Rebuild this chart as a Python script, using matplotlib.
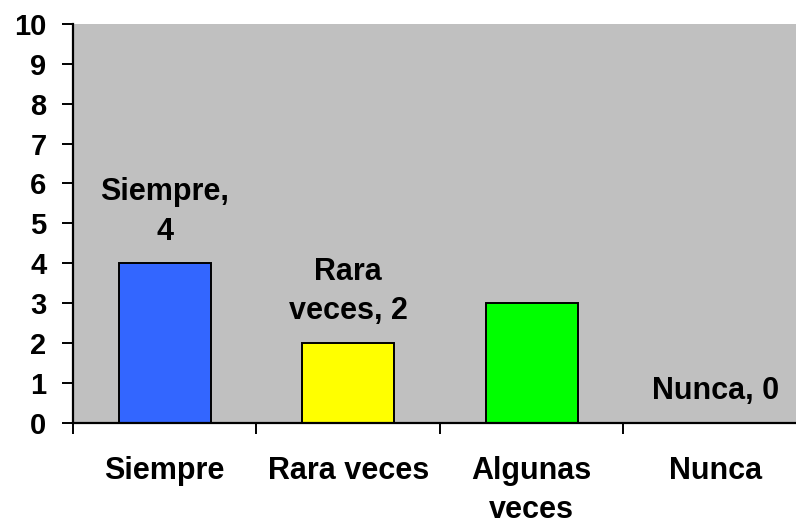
import numpy as np
import matplotlib
matplotlib.use('Agg')
import matplotlib.pyplot as plt

categories = ['Siempre', 'Rara veces', 'Algunas\nveces', 'Nunca']
values = [4, 2, 3, 0]
bar_colors = ['#3366FF', '#FFFF00', '#00FF00', '#808080']
point_labels = ['Siempre,\n4', 'Rara\nveces, 2', None, 'Nunca, 0']
y_ticks = list(range(0, 11))

plt.rcParams['font.family'] = ['Liberation Sans', 'DejaVu Sans']
plt.rcParams['font.weight'] = 'bold'

fig = plt.figure(figsize=(7.96, 5.27), dpi=100)
ax = fig.add_axes([0.0917, 0.198, 0.922, 0.7565])
ax.set_facecolor('#C0C0C0')

x = np.arange(len(categories))
ax.bar(x, values, width=0.5, color=bar_colors, edgecolor='black', linewidth=1.4, zorder=2)

# data labels above bars (none on "Algunas veces" in the original)
for xi, v, lab in zip(x, values, point_labels):
    if lab is None:
        continue
    ax.annotate(lab, (xi, v), xytext=(0, 12), textcoords='offset points',
                ha='center', va='bottom', fontsize=22, fontweight='bold',
                linespacing=1.4, zorder=3)

ax.set_xlim(-0.5, 3.5)
ax.set_ylim(0, 10)
ax.set_yticks(y_ticks)
ax.tick_params(axis='y', direction='out', length=8, width=1.4, pad=11, labelsize=21)

ax.set_xticks(x)
ax.set_xticklabels(categories, fontsize=22, fontweight='bold', linespacing=1.38)
ax.set_xticks(np.arange(-0.5, 4, 1), minor=True)
ax.tick_params(axis='x', which='major', length=0, pad=24)
ax.tick_params(axis='x', which='minor', direction='out', length=8, width=1.4)

for s in ['top', 'right']:
    ax.spines[s].set_visible(False)
for s in ['left', 'bottom']:
    ax.spines[s].set_linewidth(1.6)

fig.savefig('out.png', dpi=100)
